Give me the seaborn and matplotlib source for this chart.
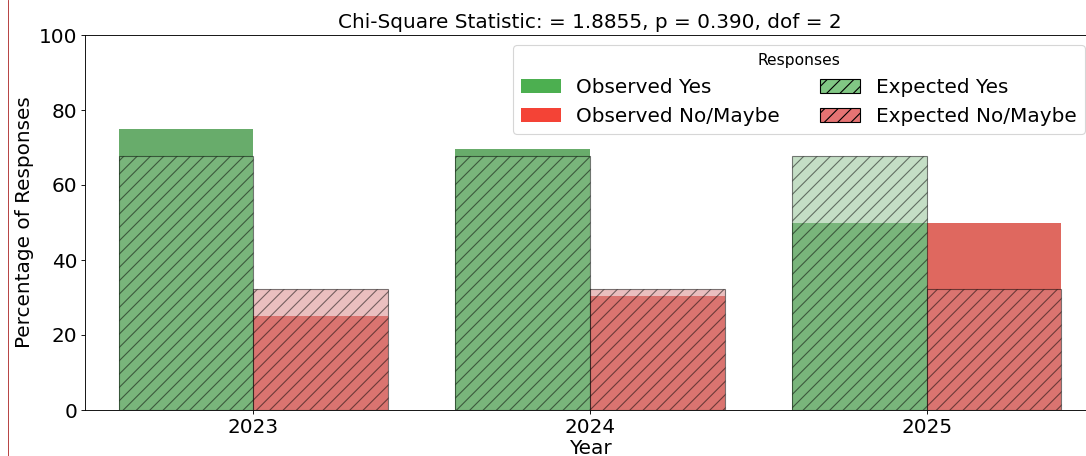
import matplotlib
matplotlib.use("Agg")
import matplotlib.pyplot as plt
from matplotlib.patches import Patch
from matplotlib.lines import Line2D
import seaborn as sns
import pandas as pd

# ---- data (percent of responses) ----
years = ["2023", "2024", "2025"]
observed_yes = [75.0, 69.6, 50.0]
observed_no = [25.0, 30.4, 50.0]
expected_yes = [67.7, 67.7, 67.7]
expected_no = [32.3, 32.3, 32.3]
responses = ["Yes", "No/Maybe"]
title_text = "Chi-Square Statistic: = 1.8855, p = 0.390, dof = 2"

obs_colors = ["#4caf50", "#f44336"]
exp_colors = ["#81c784", "#e57373"]

obs_df = pd.DataFrame({
    "Year": years * 2,
    "Response": [responses[0]] * 3 + [responses[1]] * 3,
    "Pct": observed_yes + observed_no,
})
exp_df = pd.DataFrame({
    "Year": years * 2,
    "Response": [responses[0]] * 3 + [responses[1]] * 3,
    "Pct": expected_yes + expected_no,
})

DPI = 80
W, H = 1086, 456
fig = plt.figure(figsize=(W / DPI, H / DPI), dpi=DPI)
ax = fig.add_axes([85 / W, 46 / H, 1010 / W, 375 / H])

FS = 18

sns.barplot(data=obs_df, x="Year", y="Pct", hue="Response", hue_order=responses,
            palette=obs_colors, alpha=0.9, ax=ax, legend=False, errorbar=None)
sns.barplot(data=exp_df, x="Year", y="Pct", hue="Response", hue_order=responses,
            palette=exp_colors, alpha=0.5, hatch="//", edgecolor="black",
            linewidth=1, ax=ax, legend=False, errorbar=None)

ax.set_xlim(-0.5, 2.5)
ax.set_ylim(0, 100)
ax.set_yticks([0, 20, 40, 60, 80, 100])
ax.tick_params(labelsize=FS)
ax.set_xlabel("Year", fontsize=FS, labelpad=2)
ax.set_ylabel("Percentage of Responses", fontsize=FS)
ax.set_title(title_text, fontsize=FS)

handles = [
    Patch(facecolor=obs_colors[0], label="Observed Yes"),
    Patch(facecolor=obs_colors[1], label="Observed No/Maybe"),
    Patch(facecolor=exp_colors[0], edgecolor="black", hatch="//", label="Expected Yes"),
    Patch(facecolor=exp_colors[1], edgecolor="black", hatch="//", label="Expected No/Maybe"),
]
ax.legend(handles=handles, loc="upper right", ncol=2, title="Responses",
          fontsize=FS, title_fontsize=14)

fig.add_artist(Line2D([7.5 / W, 7.5 / W], [0, 1], transform=fig.transFigure,
                      color="#b03030", linewidth=0.8))

fig.savefig("out.png", dpi=DPI)
